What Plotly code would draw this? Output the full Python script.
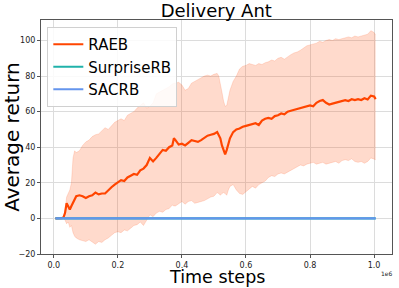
import plotly.graph_objects as go

steps = [0.005, 0.015, 0.025, 0.03, 0.035, 0.04, 0.045, 0.05, 0.055, 0.06, 0.065, 0.07, 0.08, 0.09,
         0.1, 0.11, 0.12, 0.13, 0.14, 0.15, 0.16, 0.17, 0.18, 0.19, 0.2, 0.21, 0.22, 0.23, 0.24,
         0.25, 0.26, 0.27, 0.28, 0.29, 0.3, 0.31, 0.32, 0.33, 0.34, 0.35, 0.36, 0.37, 0.375, 0.38,
         0.39, 0.4, 0.41, 0.42, 0.43, 0.44, 0.45, 0.46, 0.47, 0.48, 0.49, 0.5, 0.51, 0.515, 0.52,
         0.525, 0.53, 0.535, 0.54, 0.545, 0.55, 0.56, 0.57, 0.58, 0.59, 0.6, 0.61, 0.62, 0.63,
         0.64, 0.65, 0.66, 0.67, 0.68, 0.69, 0.7, 0.71, 0.72, 0.73, 0.74, 0.75, 0.76, 0.77, 0.78,
         0.79, 0.8, 0.81, 0.82, 0.83, 0.84, 0.85, 0.86, 0.87, 0.88, 0.89, 0.9, 0.91, 0.92, 0.93,
         0.94, 0.95, 0.96, 0.97, 0.98, 0.99, 1.0, 1.005]

raeb_mean = [0, 0, 0.2, 0.5, 3, 8.5, 7, 5, 7, 9, 11.5, 12.5, 13, 12.5,
             11.5, 12.5, 13, 14.5, 13.5, 14, 14, 16, 17.5, 19, 20.5, 21.5, 21, 23, 24,
             25, 24.5, 27, 28, 30, 34, 32, 34, 36, 38.5, 38, 40, 41, 45, 44,
             41.5, 42, 41, 42.5, 44, 43.5, 43, 44, 45.5, 46.5, 47, 47.5, 48.5, 47, 45,
             41, 38, 36, 38.5, 42, 45, 48.5, 50, 50.5, 51.5, 52, 52.5, 53, 53.5,
             52.5, 55, 56, 56.5, 56, 57.5, 58, 59, 58.5, 60, 60.5, 61, 61.5, 62, 62.5,
             63, 63.5, 63, 65, 66, 66.5, 65, 64, 64.5, 65, 65.5, 66, 66.5, 66, 67,
             66.5, 67, 66.5, 67.5, 66.8, 69, 68.5, 67]

raeb_upper = [0, 0, 0.2, 0.5, 5, 12, 14, 16, 20, 34, 38, 37, 38, 41,
              43, 44, 46, 47, 47.5, 49, 51, 50, 52, 54, 55, 56, 55, 58, 59,
              60, 62, 63.5, 65, 62, 63, 65, 70, 71, 72, 73, 74, 75.5, 76, 76,
              76.5, 75, 72, 73, 76, 77, 78, 79, 80, 80.5, 80, 81, 81.5, 80, 76,
              71, 66, 63, 63.5, 68, 72, 77, 80, 84, 85.5, 86, 87, 86.5, 86,
              87, 86.5, 87.5, 88, 89, 88.5, 90, 90.5, 89.5, 91, 92, 93, 93.5, 94.5, 96,
              97, 97.5, 98, 98.5, 99.5, 99, 100, 100.5, 100, 101, 100.5, 101, 101.5, 102, 101.5,
              102.5, 102, 102.5, 103, 103.5, 105.5, 104.5, 103]

raeb_lower = [0, 0, 0.2, 0, -1, -3, -2, -5, -4, -8, -10, -11, -12, -12.5,
              -13, -12, -13.5, -14.5, -13, -13.5, -12, -11, -9.5, -8, -7.5, -8, -6.5, -7, -5.5,
              -4, -3.5, -2, -4, -1, 2, 1, 3, 4, 3.5, 5, 5.5, 7.5, 7, 7,
              8.5, 9.5, 8, 9.5, 10, 8.5, 9, 9.5, 10, 11, 12, 12.5, 14.5, 14, 13,
              14, 14.5, 14, 13, 16, 18, 19, 16, 14, 13.5, 15, 16.5, 18, 17,
              19, 20, 21, 23, 24, 23.5, 25, 25.5, 25, 26, 27, 28, 29, 30, 29.5,
              30.5, 31, 31.5, 30.5, 31, 31.5, 30.5, 31, 31.5, 32, 31, 32.5, 33, 32.5, 33.5,
              32, 31.5, 32, 31, 32, 34, 33.5, 33]

surprise_mean = [0.0] * len(steps)
sacrb_mean = [0.0] * len(steps)

x_ticks = [0.0, 0.2, 0.4, 0.6, 0.8, 1.0]
y_ticks = [-20, 0, 20, 40, 60, 80, 100]

fig = go.Figure()
fig.add_trace(go.Scatter(x=steps, y=raeb_upper, mode="lines",
                         line=dict(color="rgba(255,69,0,0.25)", width=0.6),
                         showlegend=False, hoverinfo="skip"))
fig.add_trace(go.Scatter(x=steps, y=raeb_lower, mode="lines",
                         line=dict(color="rgba(255,69,0,0.25)", width=0.6),
                         fill="tonexty", fillcolor="rgba(255,69,0,0.2)",
                         showlegend=False, hoverinfo="skip"))
fig.add_trace(go.Scatter(x=steps, y=raeb_mean, mode="lines", name="RAEB",
                         line=dict(color="#FF4500", width=2.2)))
fig.add_trace(go.Scatter(x=steps, y=surprise_mean, mode="lines", name="SurpriseRB",
                         line=dict(color="#20B2AA", width=2.2)))
fig.add_trace(go.Scatter(x=steps, y=sacrb_mean, mode="lines", name="SACRB",
                         line=dict(color="#6495ED", width=2.2)))

axis_common = dict(showgrid=True, gridcolor="#dcdcdc", gridwidth=1, zeroline=False,
                   showline=True, linecolor="#555555", linewidth=1, mirror=True,
                   ticks="outside", ticklen=3, tickcolor="#555555", automargin=False,
                   tickfont=dict(family="DejaVu Sans", size=8, color="#222222"))

fig.update_layout(
    width=399, height=288,
    margin=dict(l=41, r=7, t=20, b=34),
    paper_bgcolor="white", plot_bgcolor="white",
    title=dict(text="Delivery Ant", x=0.542, xanchor="center", y=0.962, yanchor="middle",
               font=dict(family="DejaVu Sans", size=18, color="black")),
    xaxis=dict(range=[-0.04, 1.056], tickvals=x_ticks,
               ticktext=[f"{v:.1f}" for v in x_ticks], **axis_common),
    yaxis=dict(range=[-20, 111.5], tickvals=y_ticks, **axis_common),
    legend=dict(x=0.018, y=0.97, xanchor="left", yanchor="top", traceorder="normal",
                bgcolor="rgba(255,255,255,0.85)", bordercolor="#d0d0d0", borderwidth=1,
                font=dict(family="DejaVu Sans", size=15, color="black"),
                itemwidth=30, tracegroupgap=0),
    annotations=[
        dict(text="1e6", x=0.985, y=-0.06, xref="paper", yref="paper",
             xanchor="center", yanchor="top", showarrow=False,
             font=dict(family="DejaVu Sans", size=6, color="#222222")),
        dict(text="Time steps", x=0.5, y=-0.099, xref="paper", yref="paper",
             xanchor="center", yanchor="middle", showarrow=False,
             font=dict(family="DejaVu Sans", size=17.5, color="black")),
        dict(text="Average return", x=-0.083, y=0.5, xref="paper", yref="paper",
             xanchor="center", yanchor="middle", showarrow=False, textangle=-90,
             font=dict(family="DejaVu Sans", size=20, color="black")),
    ],
    showlegend=True,
)

fig.write_html("out.html", config={"displayModeBar": False},
               post_script="document.body.style.margin='0';")
